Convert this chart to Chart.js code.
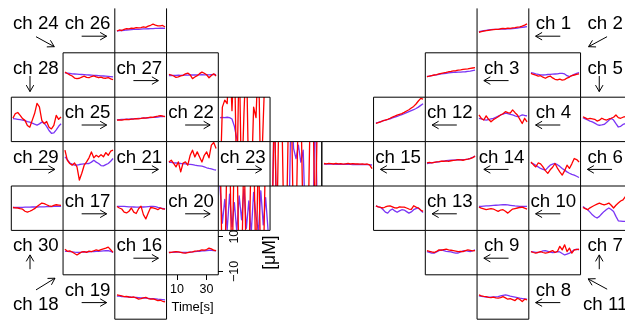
<!DOCTYPE html>
<html lang="en">
<head>
    <meta charset="UTF-8">
    <title>Channel traces</title>
    <script src="https://cdn.jsdelivr.net/npm/chart.js"></script>
    <style>
        body {
          margin: 0;
          background: #fff;
          overflow: hidden;
        }
        #stage {
          position: relative;
          width: 625px;
          height: 320px;
          overflow: hidden;
          background: #fff;
        }
        #stage canvas {
          position: absolute;
        }
        #overlay {
          position: absolute;
          left: 0;
          top: 0;
          pointer-events: none;
        }
    </style>
</head>
<body>
<div id="stage">
    <svg id="overlay" width="625" height="320"></svg>
</div>

<script>
    // sample times (s) and axis ticks
    const times = [4.5, 6.1, 7.7, 9.3, 10.9, 12.5, 14.1, 15.7, 17.3, 18.9, 20.5, 22.1, 23.7, 25.3, 26.9, 28.5, 30.1, 31.7, 33.3, 34.9, 36.5];
    const xTicks = [10, 30];
    const yTicks = [10, -10];
    const xRange = [3.2, 37.8];
    const yRange = [-12, 13.8];

    // concentration traces (uM), red and blue per channel
    const ch1Red = [-0.1, 0.2, 0.5, 0.8, 1.0, 1.2, 1.4, 1.6, 1.5, 1.9, 2.1, 2.0, 2.3, 2.1, 2.4, 2.5, 2.8, 3.0, 3.4, 4.0, 4.7];
    const ch1Blue = [0.2, 0.5, 0.8, 1.0, 1.2, 1.4, 1.5, 1.6, 1.6, 1.7, 1.7, 1.7, 1.8, 1.9, 2.0, 2.1, 2.3, 2.5, 2.7, 2.9, 3.1];
    const ch2Red = [1.9, 1.2, 0.8, 0.3, 0.5, -0.4, -1.0, -0.2, 0.3, -0.8, -1.6, -2.0, -1.5, -2.1, -1.8, -0.9, -0.3, 0.6, 0.9, 1.3, 1.5];
    const ch2Blue = [2.3, 2.0, 1.6, 1.3, 1.0, 0.9, 1.0, 1.2, 1.3, 1.4, 1.5, 1.6, 1.8, 1.9, 1.5, 0.5, -0.1, 0.5, 1.3, 1.8, 2.3];
    const ch3Red = [-0.1, 0.2, 0.6, 0.9, 1.1, 1.5, 1.9, 2.2, 2.4, 2.8, 3.0, 3.3, 3.4, 3.7, 3.9, 4.2, 4.4, 4.5, 4.8, 5.0, 5.2];
    const ch3Blue = [-0.1, 0.2, 0.5, 0.8, 1.0, 1.3, 1.5, 1.7, 1.9, 2.1, 2.3, 2.4, 2.5, 2.6, 2.6, 2.7, 2.8, 3.0, 3.2, 3.5, 3.8];
    const ch4Red = [3.5, 1.5, 0.6, 3.0, 1.0, -0.4, 0.8, 1.6, 2.5, 3.5, 4.2, 5.4, 4.8, 4.5, 6.4, 4.8, 3.5, 1.0, -1.4, 1.6, -0.4];
    const ch4Blue = [1.6, 1.2, 0.8, 0.6, 0.9, 1.3, 1.6, 2.2, 2.8, 3.5, 4.0, 4.5, 4.3, 3.8, 3.5, 3.0, 2.6, 2.9, 3.5, 3.2, 3.0];
    const ch5Red = [2.5, 1.8, 1.1, 1.6, 1.3, 1.0, 0.0, 0.5, 1.6, 1.0, 0.6, 1.2, 1.6, 2.2, 3.5, 2.0, 1.6, 2.2, 2.5, 2.8, 3.0];
    const ch5Blue = [1.9, 1.3, 0.6, 0.0, -0.5, -1.2, -2.0, -2.4, -2.2, -1.9, -0.8, 0.5, 1.6, 0.6, -1.5, -3.4, -3.0, -1.9, -1.5, -1.2, -1.0];
    const ch6Red = [2.1, 0.5, -0.8, 1.5, 1.0, -0.8, -3.0, -4.6, -2.5, -1.0, 1.2, -1.5, -3.7, -5.6, -3.0, 0.2, -1.7, 1.0, 4.1, 3.5, 2.1];
    const ch6Blue = [1.6, 1.0, 0.2, -0.8, -1.7, -2.3, -2.7, -1.2, 0.2, 0.8, 1.2, 0.5, -0.5, -1.7, -2.7, -3.7, -4.5, -5.2, -5.6, -6.3, -7.0];
    const ch7Red = [1.2, 0.5, -0.1, 1.0, 1.8, 2.5, 3.2, 3.8, 3.2, 2.8, 3.2, 3.8, 2.5, 0.9, 2.5, 3.8, 5.0, 5.7, 7.6, 8.2, 8.8];
    const ch7Blue = [1.8, 0.8, -0.1, -1.5, -3.1, -4.2, -5.0, -4.0, -2.5, -1.1, 0.0, 0.9, 0.0, -1.1, -4.0, -6.6, -6.8, -7.0, -7.0, -7.2, -7.3];
    const ch8Red = [2.1, 1.6, 1.3, 1.1, 0.7, 0.5, 0.8, 0.4, 0.2, 0.5, 1.1, 0.4, -0.4, 0.0, -0.6, -1.2, 0.2, -0.6, -1.8, -0.4, -0.8];
    const ch8Blue = [1.5, 1.3, 1.1, 0.9, 0.8, 0.8, 0.9, 1.0, 1.1, 1.5, 1.9, 2.1, 1.8, 1.4, 1.1, 0.8, 0.5, 0.2, 0.0, -0.2, -0.4];
    const ch9Red = [2.0, 1.6, 1.2, 0.9, 1.5, 2.4, 2.2, 2.6, 2.8, 2.4, 2.2, 2.0, 1.7, 1.4, 1.6, 1.4, 2.0, 2.4, 2.1, 1.8, 2.0];
    const ch9Blue = [1.4, 1.0, 0.6, 0.5, 1.2, 2.0, 2.4, 2.0, 1.6, 1.4, 1.2, 0.8, 0.5, 0.6, 1.2, 1.8, 2.0, 1.7, 1.4, 1.9, 2.4];
    const ch10Red = [1.4, 0.8, 0.4, -0.1, 0.2, 0.5, 0.3, -0.4, -1.1, -0.3, -0.1, -1.0, -2.1, -0.8, 0.3, 0.6, 0.9, 1.2, 1.4, 0.8, 0.3];
    const ch10Blue = [1.8, 1.9, 2.0, 2.1, 2.2, 2.3, 2.4, 2.5, 2.6, 2.7, 2.8, 2.8, 2.7, 2.5, 2.3, 2.1, 2.0, 1.9, 1.8, 1.8, 1.8];
    const ch11Red = [1.4, 0.9, 0.5, 1.0, 1.4, 0.9, 0.5, 0.8, 1.4, 2.0, 0.9, 1.5, 4.4, 2.4, 5.3, 1.4, 3.4, 0.5, 2.4, 2.6, 2.8];
    const ch11Blue = [1.4, 1.2, 1.0, 0.9, 1.3, 1.8, 2.0, 1.6, 1.1, 0.9, 1.0, 1.4, 1.2, 0.3, -0.5, 0.0, 0.5, 1.4, 2.4, 2.8, 2.4];
    const ch12Red = [-1.4, -0.9, -0.5, 0.2, 0.5, 1.0, 1.6, 2.3, 2.8, 3.4, 3.9, 4.3, 5.0, 5.8, 6.5, 7.5, 8.4, 9.8, 11.5, 13.0, 12.6];
    const ch12Blue = [-1.0, -0.7, -0.3, 0.1, 0.5, 0.9, 1.3, 1.8, 2.2, 2.7, 3.2, 3.7, 4.2, 4.8, 5.4, 6.0, 6.5, 7.2, 8.0, 9.0, 9.9];
    const ch13Red = [2.2, 1.6, 1.2, 0.9, 1.5, 2.0, 2.2, 1.6, 1.0, 0.9, 1.6, 1.4, 1.4, 0.9, 0.3, 0.1, 2.2, 1.4, 0.9, -0.3, -1.1];
    const ch13Blue = [2.2, 1.6, 1.2, 0.0, -1.5, -2.1, -0.5, 0.3, -0.8, -1.6, -0.8, -0.1, -0.3, -1.2, -2.1, -1.4, -0.1, 0.5, 0.9, -0.5, -1.7];
    const ch14Red = [1.6, 1.8, 1.6, 1.9, 2.1, 2.3, 2.6, 2.5, 2.7, 2.5, 2.8, 3.0, 3.2, 3.5, 3.3, 3.1, 3.4, 3.7, 4.1, 4.6, 5.5];
    const ch14Blue = [1.2, 1.4, 1.6, 1.8, 2.0, 2.2, 2.4, 2.6, 2.8, 3.0, 3.1, 3.2, 3.3, 3.4, 3.4, 3.5, 3.6, 3.8, 4.2, 4.8, 5.5];
    const ch15Red = [1.2, 1.0, 1.3, 1.1, 0.9, 1.2, 1.0, 1.1, 0.8, 1.0, 1.2, 0.9, 1.1, 0.9, 1.0, 0.8, 1.0, 0.7, 0.9, 0.4, -1.8];
    const ch15Blue = [0.9, 0.8, 0.9, 0.8, 0.8, 0.7, 0.8, 0.7, 0.7, 0.8, 0.7, 0.7, 0.6, 0.7, 0.6, 0.6, 0.5, 0.6, 0.5, 0.4, 0.3];
    const ch16Red = [0.9, 1.0, 1.2, 1.4, 1.3, 1.0, 0.7, 0.5, 0.8, 1.1, 1.3, 1.7, 1.8, 2.0, 2.4, 2.3, 2.6, 3.4, 3.0, 2.2, 2.0];
    const ch16Blue = [0.9, 1.0, 1.0, 1.1, 1.1, 1.0, 0.9, 0.9, 1.0, 1.1, 1.2, 1.4, 1.5, 1.6, 1.8, 1.9, 2.0, 2.2, 2.2, 2.0, 1.8];
    const ch17Red = [1.8, 0.9, 0.3, -1.5, -2.0, -1.0, 0.9, -1.5, -2.3, 0.5, 2.0, -3.0, -5.5, -2.0, 1.2, 1.0, 0.6, -0.1, 0.9, 0.4, 0.2];
    const ch17Blue = [1.9, 1.9, 1.8, 1.8, 1.7, 1.6, 1.6, 1.5, 1.4, 1.4, 1.5, 1.5, 1.6, 1.7, 1.8, 1.9, 1.7, 1.3, 1.0, 0.6, 0.4];
    const ch18Red = [2.8, 1.6, 1.8, 1.2, 0.3, -0.5, 0.4, 1.2, 1.4, 1.0, 1.7, 1.4, 1.9, 2.4, 2.0, 2.6, 3.0, 3.4, 4.0, 2.5, 1.0];
    const ch18Blue = [1.6, 1.5, 1.4, 1.3, 1.1, 1.0, 1.0, 1.1, 1.2, 1.3, 1.3, 1.4, 1.4, 1.5, 1.6, 1.7, 1.8, 1.9, 2.0, 1.5, 1.0];
    const ch19Red = [2.1, 1.8, 1.5, 1.1, 1.3, 0.9, 0.7, 0.9, 0.4, -0.3, -0.1, 0.4, 0.7, 0.0, -0.4, -0.2, -0.6, -1.2, -1.0, -1.6, -2.0];
    const ch19Blue = [1.5, 1.4, 1.2, 1.1, 1.0, 0.9, 0.8, 0.7, 0.6, 0.5, 0.4, 0.3, 0.2, 0.1, 0.0, -0.1, -0.2, -0.4, -0.5, -0.6, -0.8];
    const ch20Red = [40, -40, -40, 40, 40, -40, 40, 40, -40, -40, 40, -40, -40, 40, 40, -40, 40, -40, -40, 40, 40];
    const ch20Blue = [14, -8, 6, -12, 9, -10, 4, -13, 8, -6, 12, -11, 5, -14, 10, -4, -13, 11, -9, 7, -12];
    const ch21Red = [2.1, 3.1, 1.2, -0.8, 2.1, -3.7, 1.5, 2.1, 0.2, 6.0, 9.0, 5.0, 8.0, 5.0, 2.1, 6.0, 8.0, 4.5, 12.0, 13.5, 10.0];
    const ch21Blue = [1.8, 1.9, 1.6, 1.5, 1.4, 1.2, 1.1, 1.0, 0.8, 0.7, 0.5, 0.2, 0.0, -0.2, -0.4, -0.8, -1.3, -1.7, -2.0, -2.4, -2.7];
    const ch22Red = [-40, 8, 12, 10, 40, 6, 40, -40, 40, -40, 5, 40, -40, -40, 8, 2, 40, -40, 0, 40, 40];
    const ch22Blue = [2.0, 2.1, 2.0, 2.2, 2.0, 1.2, -3.0, -10, -18, -25, -22, -28, -30, -26, -32, -28, -30, -27, -33, -25, -20];
    const ch23Red = [-40, 40, -40, 40, 40, -40, -40, 40, 40, -40, -40, 40, 40, -40, -40, -40, 40, 40, -40, 40, 40];
    const ch23Blue = [-40, 40, -40, -40, -40, -40, -40, -40, 40, 10, 4, 12, 2, 9, -40, -40, -40, -40, 40, -40, -40];
    const ch24Red = [2.6, 1.8, 1.0, 0.3, -0.9, -1.2, -1.0, -0.3, 0.2, -0.5, -0.7, 0.0, 0.4, -0.2, -0.7, -0.3, -0.9, -1.0, -0.6, -1.4, -1.8];
    const ch24Blue = [2.1, 2.0, 1.8, 1.6, 1.5, 1.4, 1.3, 1.2, 1.1, 1.0, 0.9, 0.8, 0.7, 0.6, 0.5, 0.4, 0.3, 0.2, 0.1, 0.0, -0.2];
    const ch25Red = [0.5, 0.6, 0.5, 0.8, 0.9, 0.8, 1.1, 1.2, 1.4, 1.3, 1.5, 1.8, 1.7, 2.0, 2.3, 2.1, 2.6, 2.8, 3.1, 2.9, 2.6];
    const ch25Blue = [0.7, 0.8, 0.9, 1.0, 1.1, 1.1, 1.2, 1.3, 1.4, 1.5, 1.6, 1.7, 1.8, 1.9, 2.0, 2.1, 2.2, 2.3, 2.5, 2.6, 2.7];
    const ch26Red = [0.6, 1.2, 0.9, 1.6, 2.0, 1.8, 2.3, 2.1, 2.6, 2.4, 2.6, 3.0, 2.7, 3.4, 3.9, 4.5, 4.0, 3.6, 3.5, 3.8, 2.9];
    const ch26Blue = [0.6, 0.8, 0.9, 1.0, 1.2, 1.3, 1.4, 1.5, 1.6, 1.6, 1.7, 1.8, 1.8, 1.9, 2.0, 2.0, 2.1, 2.1, 2.2, 2.2, 2.1];
    const ch27Red = [1.3, 0.9, 0.3, -0.5, -0.2, 0.4, 0.7, 1.6, 2.0, 1.0, -1.2, -0.3, 0.5, 1.7, 2.6, 1.9, 1.0, -0.7, 0.6, 1.6, 0.3];
    const ch27Blue = [0.6, 0.6, 0.7, 0.7, 0.8, 0.7, 0.8, 0.9, 0.8, 0.9, 1.0, 0.9, 1.0, 1.0, 1.1, 1.0, 1.1, 1.0, 1.1, 1.2, 1.1];
    const ch28Red = [1.7, 4.3, 4.9, 3.3, 1.4, 0.4, -2.5, -3.5, 0.4, 4.3, 10.1, 8.1, 0.4, -1.5, -0.2, -3.5, -4.5, -2.5, 3.3, 1.0, 2.3];
    const ch28Blue = [1.4, 1.2, 1.0, 0.8, 0.5, 0.3, -0.3, -0.6, -1.2, -1.8, -2.3, -1.6, -0.6, -1.2, -3.0, -5.4, -7.0, -6.8, -5.0, -3.0, -1.5];
    const ch29Red = [9.0, 3.0, 1.2, 0.2, 1.5, -0.8, -8.5, -4.5, 0.2, 2.1, 4.5, 8.0, 4.5, 6.0, 5.0, 6.4, 5.1, 7.6, 6.0, 8.4, 9.0];
    const ch29Blue = [5.1, 3.5, 1.5, 0.8, 0.2, 0.3, 0.6, 0.8, 1.0, 1.1, 1.2, 2.0, 3.1, 2.0, 1.2, 0.0, -0.2, 0.5, 1.2, 2.5, 4.1];
    const ch30Red = [1.2, 1.0, 0.9, 0.5, 0.2, -1.0, -1.5, -1.0, -0.3, 0.5, 1.8, 2.8, 3.8, 3.5, 2.8, 2.2, 1.8, 2.5, 2.8, 2.6, 2.4];
    const ch30Blue = [1.2, 1.2, 1.3, 1.3, 1.3, 1.4, 1.4, 1.4, 1.5, 1.5, 1.5, 1.6, 1.6, 1.6, 1.7, 1.7, 1.7, 1.8, 1.8, 1.8, 1.9];

    const traces = {
      1: [ch1Red, ch1Blue], 2: [ch2Red, ch2Blue], 3: [ch3Red, ch3Blue], 4: [ch4Red, ch4Blue],
      5: [ch5Red, ch5Blue], 6: [ch6Red, ch6Blue], 7: [ch7Red, ch7Blue], 8: [ch8Red, ch8Blue],
      9: [ch9Red, ch9Blue], 10: [ch10Red, ch10Blue], 11: [ch11Red, ch11Blue], 12: [ch12Red, ch12Blue],
      13: [ch13Red, ch13Blue], 14: [ch14Red, ch14Blue], 15: [ch15Red, ch15Blue], 16: [ch16Red, ch16Blue],
      17: [ch17Red, ch17Blue], 18: [ch18Red, ch18Blue], 19: [ch19Red, ch19Blue], 20: [ch20Red, ch20Blue],
      21: [ch21Red, ch21Blue], 22: [ch22Red, ch22Blue], 23: [ch23Red, ch23Blue], 24: [ch24Red, ch24Blue],
      25: [ch25Red, ch25Blue], 26: [ch26Red, ch26Blue], 27: [ch27Red, ch27Blue], 28: [ch28Red, ch28Blue],
      29: [ch29Red, ch29Blue], 30: [ch30Red, ch30Blue]
    };

    // grid layout: [channel, column, row]
    const panels = [
      [26, 2, 0], [1, 9, 0],
      [24, 1, 1], [27, 3, 1], [3, 8, 1], [2, 10, 1],
      [28, 0, 2], [25, 2, 2], [22, 4, 2], [12, 7, 2], [4, 9, 2], [5, 11, 2],
      [29, 1, 3], [21, 3, 3], [23, 5, 3], [15, 6, 3], [14, 8, 3], [6, 10, 3],
      [30, 0, 4], [17, 2, 4], [20, 4, 4], [13, 7, 4], [10, 9, 4], [7, 11, 4],
      [18, 1, 5], [16, 3, 5], [9, 8, 5], [11, 10, 5],
      [19, 2, 6], [8, 9, 6]
    ];
    // name tags: [channel, column, row, arrow direction]
    const tags = [
      [24, 0, 0, 'se'], [26, 1, 0, 'e'], [1, 10, 0, 'w'], [2, 11, 0, 'sw'],
      [28, 0, 1, 's'], [27, 2, 1, 'e'], [3, 9, 1, 'w'], [5, 11, 1, 's'],
      [25, 1, 2, 'e'], [22, 3, 2, 'e'], [12, 8, 2, 'w'], [4, 10, 2, 'w'],
      [29, 0, 3, 'e'], [21, 2, 3, 'e'], [23, 4, 3, 'e'], [15, 7, 3, 'w'], [14, 9, 3, 'w'], [6, 11, 3, 'w'],
      [17, 1, 4, 'e'], [20, 3, 4, 'e'], [13, 8, 4, 'w'], [10, 10, 4, 'w'],
      [30, 0, 5, 'n'], [16, 2, 5, 'e'], [9, 9, 5, 'w'], [7, 11, 5, 'n'],
      [18, 0, 6, 'ne'], [19, 1, 6, 'e'], [8, 10, 6, 'w'], [11, 11, 6, 'nw']
    ];

    const X0 = 11.3, CW = 51.75, Y0 = 8.4, CH = 44.4;
    const AXW = 80, AXH = 46;
    const FONT = "'Liberation Sans', Arial, Helvetica, sans-serif";
    const RED = '#ff0000', BLUE = '#7a35f5';
    const stage = document.getElementById('stage');
    const svg = document.getElementById('overlay');
    const NS = 'http://www.w3.org/2000/svg';

    Chart.defaults.font.family = FONT;
    Chart.defaults.color = '#000';

    const yAxisText = {
      id: 'yAxisText',
      afterDraw(chart) {
        const {ctx, chartArea, scales} = chart;
        ctx.save();
        ctx.fillStyle = '#000';
        ctx.textAlign = 'center';
        ctx.textBaseline = 'middle';
        ctx.font = '12.5px ' + FONT;
        yTicks.forEach(v => {
          ctx.save();
          ctx.translate(chartArea.right + 16.5, scales.y.getPixelForValue(v));
          ctx.rotate(-Math.PI / 2);
          ctx.fillText(v < 0 ? '\u2212' + Math.abs(v) : String(v), 0, 0);
          ctx.restore();
        });
        const mid = (scales.y.getPixelForValue(yTicks[0]) + scales.y.getPixelForValue(yTicks[1])) / 2;
        ctx.font = '17.5px ' + FONT;
        ctx.translate(chartArea.right + 52, mid - 1.5);
        ctx.rotate(-Math.PI / 2);
        ctx.fillText('[\u03bcM]', 0, 0);
        ctx.restore();
      }
    };

    function makePanel(ch, col, row) {
      const x0 = Math.round(X0 + col * CW), y0 = Math.round(Y0 + row * CH);
      const x1 = Math.round(X0 + (col + 1) * CW), y1 = Math.round(Y0 + (row + 1) * CH);
      const axes = ch === 16;
      const cv = document.createElement('canvas');
      cv.width = x1 - x0 + (axes ? AXW : 0);
      cv.height = y1 - y0 + (axes ? AXH : 0);
      cv.style.left = x0 + 'px';
      cv.style.top = y0 + 'px';
      stage.insertBefore(cv, svg);

      const [red, blue] = traces[ch];
      const line = (vals, color) => ({
        data: times.map((t, i) => ({x: t, y: vals[i]})),
        borderColor: color,
        borderWidth: 1.3,
        pointRadius: 0,
        tension: 0,
        borderJoinStyle: 'round',
        clip: 0
      });

      const xScale = {type: 'linear', min: xRange[0], max: xRange[1], display: false};
      const yScale = {type: 'linear', min: yRange[0], max: yRange[1], display: false};
      if (axes) {
        Object.assign(xScale, {
          display: true, position: 'bottom',
          afterBuildTicks: s => { s.ticks = xTicks.map(v => ({value: v})); },
          afterFit: s => { s.height = AXH; },
          grid: {drawOnChartArea: false, drawTicks: true, tickLength: 5, color: '#000'},
          border: {display: false},
          ticks: {font: {size: 12.5}, padding: 2, maxRotation: 0, autoSkip: false},
          title: {display: true, text: 'Time[s]', font: {size: 13}, padding: {top: 0, bottom: 6}}
        });
        Object.assign(yScale, {
          display: true, position: 'right',
          afterBuildTicks: s => { s.ticks = yTicks.map(v => ({value: v})); },
          afterFit: s => { s.width = AXW; },
          grid: {drawOnChartArea: false, drawTicks: true, tickLength: 5, color: '#000'},
          border: {display: false},
          ticks: {display: false}
        });
      }

      new Chart(cv, {
        type: 'line',
        data: {datasets: [line(red, RED), line(blue, BLUE)]},
        options: {
          responsive: false,
          animation: false,
          devicePixelRatio: 1,
          events: [],
          layout: {padding: 0},
          plugins: {legend: {display: false}, tooltip: {enabled: false}},
          scales: {x: xScale, y: yScale}
        },
        plugins: axes ? [yAxisText] : []
      });

      // panel frame (top row has no top edge)
      const L = X0 + col * CW, R = L + CW, T = Y0 + row * CH, B = T + CH;
      const d = row === 0
        ? `M${L},${T} V${B} H${R} V${T}`
        : `M${L},${T} V${B} H${R} V${T} Z`;
      const p = document.createElementNS(NS, 'path');
      p.setAttribute('d', d);
      p.setAttribute('fill', 'none');
      p.setAttribute('stroke', '#000');
      p.setAttribute('stroke-width', '1');
      svg.appendChild(p);
    }

    const arrowPaths = {
      e: [18.6, 27.8, 43.6, 27.8],
      w: [31.5, 27.8, 6.8, 27.8],
      s: [18.7, 23.2, 18.7, 38.8],
      n: [18.7, 38.8, 18.7, 24.5],
      se: [24.7, 28.3, 43, 38.3],
      sw: [26.5, 28.3, 8, 38.3],
      ne: [24.7, 15.1, 43.7, 3.4],
      nw: [26.6, 14.4, 7.6, 4.1]
    };

    function makeTag(ch, col, row, dir) {
      const L = X0 + col * CW, T = Y0 + row * CH;
      const low = dir === 'ne' || dir === 'nw';
      const t = document.createElementNS(NS, 'text');
      t.setAttribute('x', L + CW / 2 - 1.3);
      t.setAttribute('y', T + (low ? 35.1 : 20.9));
      t.setAttribute('text-anchor', 'middle');
      t.setAttribute('font-family', FONT);
      t.setAttribute('font-size', '18.7');
      t.setAttribute('fill', '#000');
      t.textContent = 'ch ' + ch;
      svg.appendChild(t);

      const [ax, ay, bx, by] = arrowPaths[dir];
      const x1 = L + ax, y1 = T + ay, x2 = L + bx, y2 = T + by;
      const ang = Math.atan2(y2 - y1, x2 - x1), hl = 7.5, ha = Math.PI / 6;
      const h1x = x2 - hl * Math.cos(ang - ha), h1y = y2 - hl * Math.sin(ang - ha);
      const h2x = x2 - hl * Math.cos(ang + ha), h2y = y2 - hl * Math.sin(ang + ha);
      const a = document.createElementNS(NS, 'path');
      a.setAttribute('d', `M${x1},${y1} L${x2},${y2} M${h1x},${h1y} L${x2},${y2} L${h2x},${h2y}`);
      a.setAttribute('fill', 'none');
      a.setAttribute('stroke', '#000');
      a.setAttribute('stroke-width', '1');
      svg.appendChild(a);
    }

    panels.forEach(([ch, c, r]) => makePanel(ch, c, r));
    tags.forEach(([ch, c, r, dir]) => makeTag(ch, c, r, dir));
</script>
</body>
</html>
